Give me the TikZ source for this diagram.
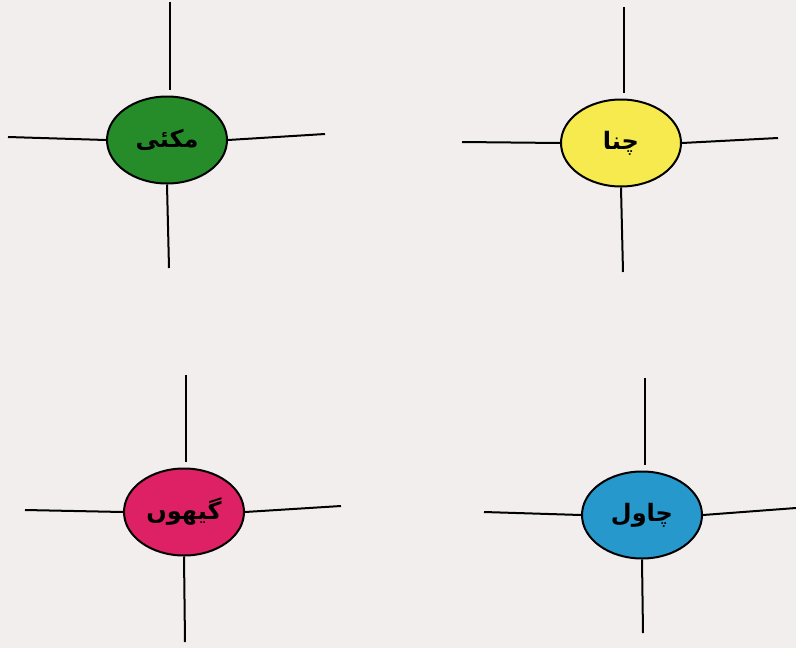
\documentclass[tikz,border=0pt]{standalone}
\usepackage{fontspec}
\usetikzlibrary{shapes.geometric}
\newfontfamily\urdufont[Script=Arabic]{DejaVu Sans}
\TeXXeTstate=1
\definecolor{paper}{RGB}{242,238,238}
\definecolor{grain1}{RGB}{38,140,42}
\definecolor{grain2}{RGB}{246,234,78}
\definecolor{grain3}{RGB}{222,32,100}
\definecolor{grain4}{RGB}{38,152,204}
\tikzset{
  seed/.style={ellipse, draw=black, line width=2pt, minimum width=120pt, minimum height=87pt, inner sep=0pt, font=\urdufont\bfseries\fontsize{24}{28}\selectfont},
  ray/.style={draw=black, line width=2pt}
}
\begin{document}
\begin{tikzpicture}[x=1pt,y=-1pt]
\fill[paper] (0,0) rectangle (796,648);
\useasboundingbox (0,0) rectangle (796,648);
% top-left
\node[seed, fill=grain1] (m) at (167,140) {\beginR مکئی\endR};
\coordinate (mN) at (170,2); \coordinate (mS) at (169,268);
\coordinate (mW) at (8,137); \coordinate (mE) at (325,134);
\draw[ray] (mN) -- (170,90);
\draw[ray] (m.south) -- (mS);
\draw[ray] (mW) -- (m.west);
\draw[ray] (m.east) -- (mE);
% top-right
\node[seed, fill=grain2] (c) at (621,143) {\beginR چنا\endR};
\coordinate (cN) at (624,7); \coordinate (cS) at (623,272);
\coordinate (cW) at (462,142); \coordinate (cE) at (778,138);
\draw[ray] (cN) -- (624,93);
\draw[ray] (c.south) -- (cS);
\draw[ray] (cW) -- (c.west);
\draw[ray] (c.east) -- (cE);
% bottom-left
\node[seed, fill=grain3] (g) at (184,512) {\beginR گیهوں\endR};
\coordinate (gN) at (186,375); \coordinate (gS) at (185,642);
\coordinate (gW) at (25,510); \coordinate (gE) at (341,506);
\draw[ray] (gN) -- (186,462);
\draw[ray] (g.south) -- (gS);
\draw[ray] (gW) -- (g.west);
\draw[ray] (g.east) -- (gE);
% bottom-right
\node[seed, fill=grain4] (r) at (642,515) {\beginR چاول\endR};
\coordinate (rN) at (645,378); \coordinate (rS) at (643,633);
\coordinate (rW) at (484,512); \coordinate (rE) at (796,508);
\draw[ray] (rN) -- (645,465);
\draw[ray] (r.south) -- (rS);
\draw[ray] (rW) -- (r.west);
\draw[ray] (r.east) -- (rE);
\end{tikzpicture}
\end{document}
